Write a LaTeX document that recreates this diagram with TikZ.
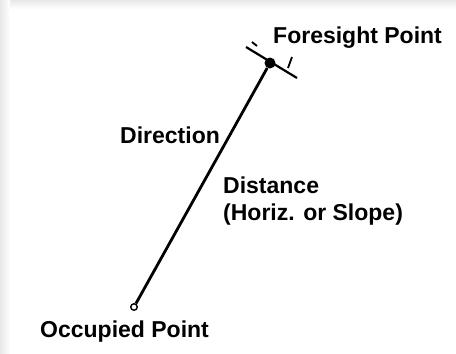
\documentclass[tikz,border=0pt]{standalone}
\usepackage{fontspec}
\setmainfont{Liberation Sans}
\tikzset{
  lbl/.style={anchor=base west, inner sep=0pt, font=\bfseries\fontsize{23}{27}\selectfont},
  sightline/.style={line width=2.8pt},
}
\begin{document}
\begin{tikzpicture}[x=1pt,y=-1pt]
\useasboundingbox (0,0) rectangle (456,354);
\fill[white] (0,0) rectangle (456,354);
\shade[top color=gray!18, bottom color=white] (0,0) rectangle (456,9);
\shade[left color=gray!18, right color=white] (0,0) rectangle (10,354);

\node[circle, draw, line width=1.4pt, fill=white, inner sep=0pt, minimum size=6.5pt] (occ) at (134,307) {};
\node[circle, fill, inner sep=0pt, minimum size=11pt] (fore) at (270,63) {};
\coordinate (barA) at (246,47);
\coordinate (barB) at (297,78);
\draw[sightline] (occ) -- (fore);
\draw[line width=2.2pt] (barA) -- (barB);
\draw[line width=1.8pt] (252,42) -- (257,46);
\draw[line width=1.8pt] (292,57) -- (288,68);

\node[lbl] (foretxt) at (273,43) {Foresight Point};
\node[lbl] (dirtxt) at (120,143) {Direction};
\node[lbl, align=left] (disttxt) at (223,220) {Distance\\(Horiz. or Slope)};
\node[lbl] (occtxt) at (40,337) {Occupied Point};
\end{tikzpicture}
\end{document}
